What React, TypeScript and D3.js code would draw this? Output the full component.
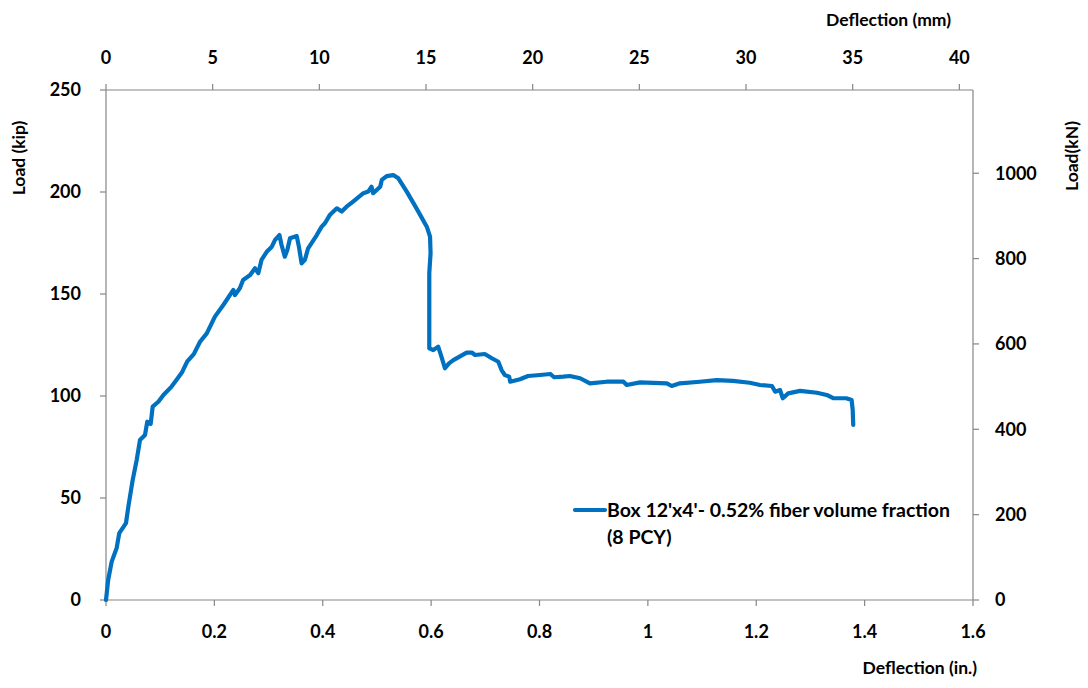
import React from "react";
import * as d3 from "d3";

// Deflection (in.) and Load (kip)
const deflectionIn = [
  0, 0.004, 0.0105, 0.0197, 0.0245, 0.0369, 0.0412, 0.0492, 0.0566, 0.0627, 0.072, 0.0762, 0.0824, 0.0862,
  0.0966, 0.106, 0.121, 0.130, 0.140, 0.150, 0.162, 0.1735, 0.186, 0.201, 0.2165, 0.235, 0.238, 0.247, 0.253,
  0.266, 0.275, 0.281, 0.287, 0.2966, 0.306, 0.312, 0.320, 0.324, 0.330, 0.3346, 0.3396, 0.352, 0.356, 0.361,
  0.367, 0.373, 0.389, 0.398, 0.404, 0.413, 0.426, 0.435, 0.444, 0.456, 0.475, 0.484, 0.490, 0.493, 0.506,
  0.509, 0.518, 0.530, 0.5395, 0.555, 0.573, 0.592, 0.598, 0.599, 0.5966, 0.5966, 0.604, 0.613, 0.619, 0.6255,
  0.633, 0.641, 0.6656, 0.675, 0.681, 0.699, 0.712, 0.724, 0.730, 0.736, 0.744, 0.746, 0.764, 0.779, 0.801,
  0.820, 0.827, 0.844, 0.856, 0.875, 0.893, 0.924, 0.955, 0.961, 0.9855, 1.035, 1.044, 1.059, 1.096, 1.127,
  1.157, 1.188, 1.207, 1.229, 1.235, 1.244, 1.249, 1.259, 1.281, 1.312, 1.330, 1.342, 1.366, 1.376, 1.378, 1.379,
];
const loadKip = [
  0, 9.8, 18.8, 25.5, 32.8, 37.7, 45.7, 58.8, 68.6, 78.4, 80.9, 87.4, 86.3, 94.8,
  97.2, 100.5, 104.6, 107.8, 111.5, 117, 120.5, 126.6, 130.7, 138.9, 144.6, 152, 149.5, 152.8, 156.9,
  159.3, 162.6, 160.2, 166.7, 170.7, 173.2, 176.5, 178.9, 174, 168.3, 171.6, 177.3, 178.4, 173.2, 165,
  166.7, 172.4, 178.9, 183, 184.7, 188.7, 192, 190.4, 192.8, 195.3, 199.4, 200.2, 202.6, 199.4, 202.6,
  205.9, 207.8, 208.3, 206.7, 200.2, 192, 183, 178.1, 170, 160.2, 123.4, 122.5, 124.2, 119.3, 113.6,
  116, 117.6, 121.3, 121.3, 120.1, 120.6, 118.5, 116.8, 112.7, 110.3, 109.5, 107, 108.2, 109.8, 110.3,
  110.8, 109.2, 109.5, 109.8, 108.7, 106.2, 107, 107, 105.4, 106.7, 106.2, 104.9, 106.2, 107, 107.8,
  107.4, 106.5, 105.4, 104.9, 102.1, 102.9, 98.9, 101.3, 102.5, 101.6, 100.5, 98.9, 98.9, 98, 93.1, 85.8,
];

const bottomTicks = [0, 0.2, 0.4, 0.6, 0.8, 1, 1.2, 1.4, 1.6];
const topTicks = [0, 5, 10, 15, 20, 25, 30, 35, 40];
const leftTicks = [0, 50, 100, 150, 200, 250];
const rightTicks = [0, 200, 400, 600, 800, 1000];

const seriesName = "Box 12'x4'- 0.52% fiber volume fraction";
const seriesName2 = "(8 PCY)";

const W = 1088;
const H = 688;
const L = 106;
const R = 973;
const T = 90;
const B = 600;
const AXIS = "#868686";
const BLUE = "#0070C0";
const FONT = "Lato, 'Open Sans', sans-serif";

export default function App() {
  const x = d3.scaleLinear().domain([0, 1.6]).range([L, R]);
  const xTop = d3.scaleLinear().domain([0, 1.6 * 25.4]).range([L, R]);
  const y = d3.scaleLinear().domain([0, 250]).range([B, T]);
  const yR = d3.scaleLinear().domain([0, 1195]).range([B, T]);

  const pts: [number, number][] = deflectionIn.map((d, i) => [d, loadKip[i]]);
  const line = d3
    .line<[number, number]>()
    .x((d) => x(d[0]))
    .y((d) => y(d[1]))
    .curve(d3.curveLinear);

  const tickStyle = { fontFamily: FONT, fontWeight: 700, fontSize: 18, fill: "#000" } as const;
  const titleStyle = { fontFamily: FONT, fontWeight: 700, fontSize: 17.5, fill: "#000" } as const;
  const legendStyle = { fontFamily: FONT, fontWeight: 700, fontSize: 19.5, fill: "#000" } as const;

  return (
    <svg width={W} height={H} style={{ position: "absolute", left: 0, top: 0, background: "#fff" }}>
      {/* axes lines */}
      <line x1={L} x2={R} y1={B} y2={B} stroke={AXIS} strokeWidth={1.2} />
      <line x1={L} x2={R} y1={T} y2={T} stroke={AXIS} strokeWidth={1.2} />
      <line x1={L} x2={L} y1={T} y2={B} stroke={AXIS} strokeWidth={1.2} />
      <line x1={R} x2={R} y1={T} y2={B} stroke={AXIS} strokeWidth={1.2} />

      {/* bottom ticks */}
      {bottomTicks.map((t) => (
        <g key={"b" + t}>
          <line x1={x(t)} x2={x(t)} y1={B} y2={B + 6} stroke={AXIS} strokeWidth={1.2} />
          <text x={x(t)} y={B + 38} textAnchor="middle" style={tickStyle}>
            {String(t)}
          </text>
        </g>
      ))}
      {/* top ticks */}
      {topTicks.map((t) => (
        <g key={"t" + t}>
          <line x1={xTop(t)} x2={xTop(t)} y1={T} y2={T - 6} stroke={AXIS} strokeWidth={1.2} />
          <text x={xTop(t)} y={T - 26} textAnchor="middle" style={tickStyle}>
            {String(t)}
          </text>
        </g>
      ))}
      {/* left ticks */}
      {leftTicks.map((t) => (
        <g key={"l" + t}>
          <line x1={L - 6} x2={L} y1={y(t)} y2={y(t)} stroke={AXIS} strokeWidth={1.2} />
          <text x={L - 25} y={y(t)} dy="0.35em" textAnchor="end" style={tickStyle}>
            {String(t)}
          </text>
        </g>
      ))}
      {/* right ticks */}
      {rightTicks.map((t) => (
        <g key={"r" + t}>
          <line x1={R} x2={R + 6} y1={yR(t)} y2={yR(t)} stroke={AXIS} strokeWidth={1.2} />
          <text x={R + 22} y={yR(t)} dy="0.35em" textAnchor="start" style={tickStyle}>
            {String(t)}
          </text>
        </g>
      ))}

      {/* axis titles */}
      <text x={951} y={26} textAnchor="end" style={titleStyle}>
        Deflection (mm)
      </text>
      <text x={977} y={674} textAnchor="end" style={titleStyle}>
        Deflection (in.)
      </text>
      <text transform={`translate(25,158) rotate(-90)`} textAnchor="middle" style={titleStyle}>
        Load (kip)
      </text>
      <text transform={`translate(1078,156) rotate(-90)`} textAnchor="middle" style={titleStyle}>
        Load(kN)
      </text>

      {/* series */}
      <path d={line(pts) || ""} fill="none" stroke={BLUE} strokeWidth={4.2} strokeLinejoin="round" strokeLinecap="round" />

      {/* legend */}
      <line x1={575} x2={605} y1={510} y2={510} stroke={BLUE} strokeWidth={4.2} strokeLinecap="round" />
      <text x={607} y={510} dy="0.35em" style={legendStyle}>
        {seriesName}
      </text>
      <text x={607} y={537} dy="0.35em" style={legendStyle}>
        {seriesName2}
      </text>
    </svg>
  );
}
